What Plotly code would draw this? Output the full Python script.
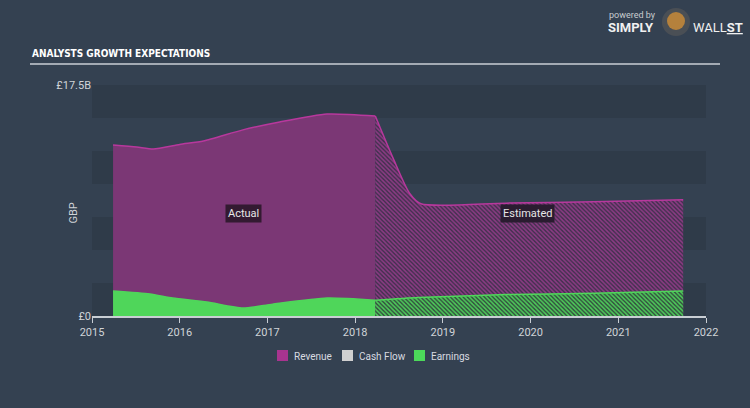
import plotly.graph_objects as go

# ---- data (GBP billions) ----
rev_act_x = [2015.24, 2015.51, 2015.70, 2016.0, 2016.27, 2016.72, 2017.14, 2017.68, 2018.23]
rev_act_y = [12.95, 12.8, 12.65, 13.0, 13.25, 14.1, 14.7, 15.3, 15.15]
rev_est_x = [2018.23, 2018.43, 2018.62, 2018.75, 2019.72, 2020.72, 2021.74]
rev_est_y = [15.15, 12.0, 9.3, 8.5, 8.55, 8.65, 8.8]
earn_act_x = [2015.24, 2015.66, 2015.92, 2016.31, 2016.72, 2017.06, 2017.68, 2018.23]
earn_act_y = [1.9, 1.67, 1.36, 1.06, 0.6, 0.9, 1.36, 1.2]
earn_est_x = [2018.23, 2018.72, 2019.72, 2020.72, 2021.74]
earn_est_y = [1.2, 1.4, 1.62, 1.72, 1.9]
year_ticks = [2015, 2016, 2017, 2018, 2019, 2020, 2021, 2022]
y_tickvals = [0, 17.5]
y_ticktext = ["£0", "£17.5B"]
legend_names = ["Revenue", "Cash Flow", "Earnings"]
legend_colors = ["#a8348f", "#d0d0d0", "#4cd95a"]

BG = "#344151"
BAND = "#2f3b49"
REV_FILL = "#7b3775"
REV_LINE = "#b8389d"
EARN = "#4fd65a"
FONT = "Roboto, Open Sans, sans-serif"


def px_x(p):
    return (p - 92) / 614


def px_y(p):
    return (316 - p) / 231


fig = go.Figure()

fig.add_trace(go.Scatter(x=rev_act_x, y=rev_act_y, mode="lines", fill="tozeroy",
                         line=dict(color=REV_LINE, width=1.5, shape="spline", smoothing=0.6),
                         fillcolor=REV_FILL, showlegend=False, hoverinfo="skip"))
fig.add_trace(go.Scatter(x=rev_est_x, y=rev_est_y, mode="lines", fill="tozeroy",
                         line=dict(color=REV_LINE, width=1.5, shape="spline", smoothing=0.7),
                         fillcolor="rgba(0,0,0,0)",
                         fillpattern=dict(shape="\\", bgcolor="#43304f", fgcolor="#8e3c86",
                                          size=3, solidity=0.5, fillmode="replace"),
                         showlegend=False, hoverinfo="skip"))
fig.add_trace(go.Scatter(x=earn_act_x, y=earn_act_y, mode="lines", fill="tozeroy",
                         line=dict(color=EARN, width=1.5, shape="spline", smoothing=0.6),
                         fillcolor=EARN, showlegend=False, hoverinfo="skip"))
fig.add_trace(go.Scatter(x=earn_est_x, y=earn_est_y, mode="lines", fill="tozeroy",
                         line=dict(color=EARN, width=1.5, shape="spline", smoothing=0.6),
                         fillcolor="rgba(0,0,0,0)",
                         fillpattern=dict(shape="\\", bgcolor="#33503f", fgcolor="#4fcf5b",
                                          size=3, solidity=0.5, fillmode="replace"),
                         showlegend=False, hoverinfo="skip"))

shapes = []
# horizontal bands
for lo in [0, 5, 10, 15]:
    shapes.append(dict(type="rect", xref="paper", yref="y", x0=0, x1=1, y0=lo, y1=lo + 2.5,
                       fillcolor=BAND, line=dict(width=0), layer="below"))
# title underline
shapes.append(dict(type="line", xref="paper", yref="paper", x0=px_x(30), x1=px_x(720),
                   y0=px_y(64), y1=px_y(64), line=dict(color="#c9ced4", width=1.5)))
# mascot approximation
shapes.append(dict(type="circle", xref="paper", yref="paper",
                   x0=px_x(662), x1=px_x(690), y0=px_y(36), y1=px_y(8),
                   fillcolor="#4a4f55", line=dict(width=0)))
shapes.append(dict(type="circle", xref="paper", yref="paper",
                   x0=px_x(667), x1=px_x(685), y0=px_y(30), y1=px_y(12),
                   fillcolor="#b5813c", line=dict(width=0)))

annotations = [
    dict(x=2016.73, y=7.8, xref="x", yref="y", text="Actual", showarrow=False,
         bgcolor="#331a31", font=dict(color="#e6e6e6", size=11, family=FONT), borderpad=2),
    dict(x=2019.97, y=7.8, xref="x", yref="y", text="Estimated", showarrow=False,
         bgcolor="#2a1c30", font=dict(color="#e6e6e6", size=11, family=FONT), borderpad=2),
    dict(x=px_x(30), y=px_y(53), xref="paper", yref="paper", xanchor="left", yanchor="middle",
         text="<b>ANALYSTS GROWTH EXPECTATIONS</b>", showarrow=False,
         font=dict(color="#ffffff", size=10, family="DejaVu Sans Condensed, Liberation Sans Narrow, sans-serif")),
    dict(x=px_x(64), y=px_y(213), xref="paper", yref="paper", text="GBP",
         textangle=-90, showarrow=False, font=dict(color="#d0d4d8", size=11, family=FONT)),
    dict(x=px_x(607), y=px_y(15), xref="paper", yref="paper", xanchor="left", yanchor="middle",
         text="powered by", showarrow=False, font=dict(color="#c8ccd0", size=9, family=FONT)),
    dict(x=px_x(606), y=px_y(27), xref="paper", yref="paper", xanchor="left", yanchor="middle",
         text="<b>SIMPLY</b>", showarrow=False, font=dict(color="#f0f0f0", size=13, family=FONT)),
    dict(x=px_x(691), y=px_y(27), xref="paper", yref="paper", xanchor="left", yanchor="middle",
         text="WALL<b><u>ST</u></b>", showarrow=False, font=dict(color="#f0f0f0", size=13, family=FONT)),
]

# manual legend
legend_sq_x = [277, 342, 414]
for name, col, sx in zip(legend_names, legend_colors, legend_sq_x):
    shapes.append(dict(type="rect", xref="paper", yref="paper",
                       x0=px_x(sx), x1=px_x(sx + 11), y0=px_y(361), y1=px_y(350),
                       fillcolor=col, line=dict(width=0)))
    annotations.append(dict(x=px_x(sx + 15), y=px_y(356), xref="paper", yref="paper",
                            xanchor="left", yanchor="middle", text=name, showarrow=False,
                            font=dict(color="#d8dbe0", size=10, family=FONT)))

fig.update_layout(
    width=750, height=408,
    margin=dict(l=92, r=44, t=85, b=92),
    paper_bgcolor=BG, plot_bgcolor=BG,
    font=dict(family=FONT, color="#d0d4d8", size=11),
    shapes=shapes, annotations=annotations,
    showlegend=False,
    xaxis=dict(range=[2015, 2022], tickvals=year_ticks, ticktext=[str(t) for t in year_ticks],
               showgrid=False, zeroline=False, showline=True, linecolor="#c9ced4", linewidth=1.5,
               ticks="outside", ticklen=5, tickcolor="#c9ced4", tickfont=dict(size=11, color="#d0d4d8")),
    yaxis=dict(range=[0, 17.5], tickvals=y_tickvals, ticktext=y_ticktext, showgrid=False,
               zeroline=False, showline=False, ticks="", tickfont=dict(size=11, color="#d0d4d8")),
)

fig.write_html("out.html")
